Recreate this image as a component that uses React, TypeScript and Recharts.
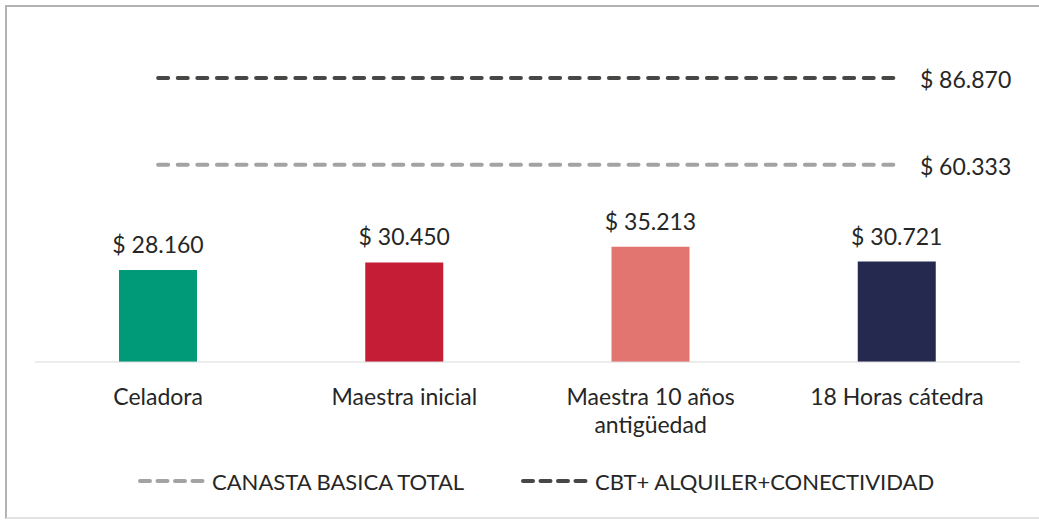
import { Bar, Cell, ComposedChart, LabelList, Line, XAxis, YAxis } from "recharts";

const categories = ["Celadora", "Maestra inicial", "Maestra 10 años antigüedad", "18 Horas cátedra"];
const salarios = [28160, 30450, 35213, 30721];
const barColors = ["#009a78", "#c51d36", "#e37571", "#25284f"];
const canastaBasica = [60333, 60333, 60333, 60333];
const cbtAlquiler = [86870, 86870, 86870, 86870];

const series = [
  { key: "cbt", name: "CANASTA BASICA TOTAL", color: "#a3a3a3", legendLeft: 138 },
  { key: "cbtPlus", name: "CBT+ ALQUILER+CONECTIVIDAD", color: "#474745", legendLeft: 521 },
];

const data = categories.map((name, i) => ({
  name,
  salario: salarios[i],
  cbt: canastaBasica[i],
  cbtPlus: cbtAlquiler[i],
}));

const FONT = "Lato, 'Open Sans', sans-serif";
const TEXT = "#262626";
const FS = 23;

const fmt = (n: unknown) => "$ " + String(Math.round(Number(n ?? 0))).replace(/\B(?=(\d{3})+(?!\d))/g, ".");

// simple word wrap, Excel breaks the long category in two lines
const wrap = (s: string, max = 16) => {
  const lines: string[] = [];
  let cur = "";
  for (const w of s.split(" ")) {
    const next = cur ? cur + " " + w : w;
    if (next.length > max && cur) {
      lines.push(cur);
      cur = w;
    } else cur = next;
  }
  if (cur) lines.push(cur);
  return lines;
};

const CategoryTick = (props: any) => {
  const { x, y, payload } = props;
  return (
    <text x={x} y={y + 35} textAnchor="middle" fontSize={FS} fontFamily={FONT} fill={TEXT}>
      {wrap(String(payload.value)).map((line, i) => (
        <tspan key={i} x={x} dy={i === 0 ? 0 : 28}>
          {line}
        </tspan>
      ))}
    </text>
  );
};

const endLabel = (props: any) => {
  const { x, y, value, index } = props;
  if (index !== categories.length - 1) return null;
  return (
    <text x={x + 23} y={y} dy={10} fontSize={FS} fontFamily={FONT} fill={TEXT}>
      {fmt(value)}
    </text>
  );
};

export default function App() {
  return (
    <div style={{ position: "absolute", left: 0, top: 0, width: 1039, height: 520, background: "#fff", overflow: "hidden" }}>
      <div
        style={{
          position: "absolute",
          left: 5,
          top: 5,
          width: 1060,
          height: 510,
          borderLeft: "2px solid #b3b3b3",
          borderTop: "2px solid #b3b3b3",
          borderBottom: "2px solid #e3e3e3",
        }}
      />
      <div style={{ position: "absolute", left: 0, top: 0 }}>
        <ComposedChart width={1039} height={520} data={data} margin={{ top: 35, right: 19, left: 35, bottom: 98 }}>
          <XAxis
            dataKey="name"
            height={60}
            axisLine={{ stroke: "#d9d9d9" }}
            tickLine={false}
            tick={CategoryTick}
            interval={0}
          />
          <YAxis hide domain={[0, 100000]} />
          <Bar dataKey="salario" barSize={78} isAnimationActive={false}>
            {data.map((d, i) => (
              <Cell key={d.name} fill={barColors[i]} />
            ))}
            <LabelList
              dataKey="salario"
              position="top"
              offset={17}
              formatter={fmt}
              fill={TEXT}
              fontSize={FS}
              fontFamily={FONT}
            />
          </Bar>
          {series.map((s) => (
            <Line
              key={s.key}
              dataKey={s.key}
              name={s.name}
              stroke={s.color}
              strokeWidth={4}
              strokeDasharray="10 9.6"
              strokeLinecap="round"
              dot={false}
              activeDot={false}
              isAnimationActive={false}
              label={endLabel}
            />
          ))}
        </ComposedChart>
      </div>
      {series.map((s) => (
        <div
          key={s.key}
          style={{
            position: "absolute",
            top: 467,
            left: s.legendLeft,
            display: "flex",
            alignItems: "center",
            gap: 6,
            fontFamily: FONT,
            fontSize: 22,
            color: TEXT,
            whiteSpace: "nowrap",
          }}
        >
          <svg width={68} height={28}>
            <line
              x1={2}
              y1={14}
              x2={66}
              y2={14}
              stroke={s.color}
              strokeWidth={4}
              strokeDasharray="10 7.5"
              strokeLinecap="round"
            />
          </svg>
          <span>{s.name}</span>
        </div>
      ))}
    </div>
  );
}
